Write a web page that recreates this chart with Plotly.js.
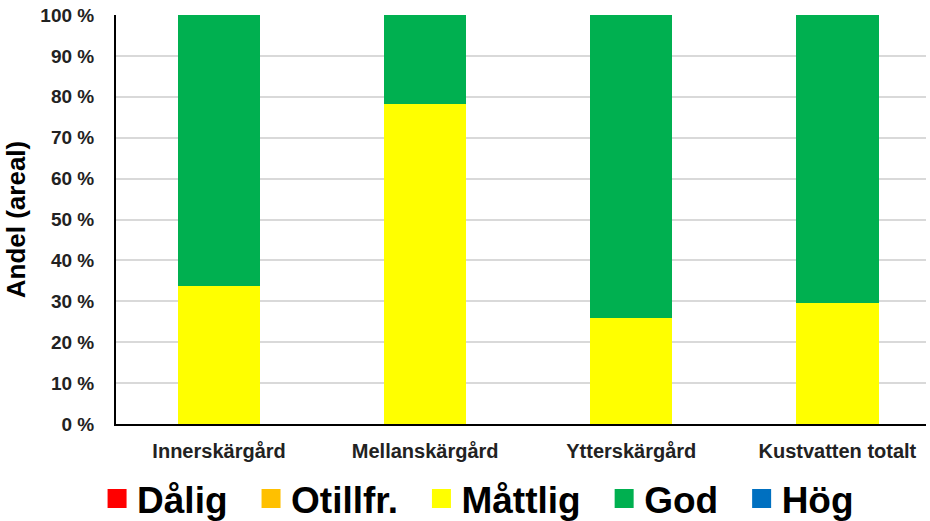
<!DOCTYPE html>
<html>
<head>
<meta charset="utf-8">
<script src="https://cdn.plot.ly/plotly-3.0.1.min.js"></script>
<style>html,body{margin:0;padding:0;background:#fff;}#chart{width:930px;height:521px;}</style>
</head>
<body>
<div id="chart"></div>
<script>
// Share of coastal water area per ecological status class
const categories = ['Innerskärgård', 'Mellanskärgård', 'Ytterskärgård', 'Kustvatten totalt'];
const classNames = ['Dålig', 'Otillfr.', 'Måttlig', 'God', 'Hög'];
const dalig    = [0, 0, 0, 0];
const otillfr  = [0, 0, 0, 0];
const mattlig  = [33.8, 78.2, 25.9, 29.6];
const god      = [66.2, 21.8, 74.1, 70.4];
const hog      = [0, 0, 0, 0];
const classColors = ['#ff0000', '#ffc000', '#ffff00', '#00b050', '#0070c0'];

const seriesValues = [dalig, otillfr, mattlig, god, hog];

// Stacked bars, one per status class
const barTraces = seriesValues.map((vals, i) => ({
  type: 'bar',
  name: classNames[i],
  legendgroup: classNames[i],
  showlegend: false,
  x: categories,
  y: vals,
  width: 0.4,
  marker: { color: classColors[i], line: { width: 0 } },
  hoverinfo: 'name+y'
}));

// Legend entries with larger square swatches; an en space widens the gap to the next entry
const legendTraces = classNames.map((name, i) => ({
  type: 'scatter',
  mode: 'markers',
  name: i < classNames.length - 1 ? name + '\u2002' : name,
  legendgroup: name,
  x: [null],
  y: [null],
  marker: { symbol: 'square', size: 18, color: classColors[i],
            line: { color: classColors[i], width: 3 } },
  hoverinfo: 'skip'
}));

const font = 'Liberation Sans, Arial, sans-serif';
const layout = {
  width: 930,
  height: 521,
  margin: { l: 116, r: 4, t: 15, b: 97, autoexpand: false },
  barmode: 'stack',
  plot_bgcolor: '#ffffff',
  paper_bgcolor: '#ffffff',
  showlegend: true,
  legend: {
    orientation: 'h',
    traceorder: 'normal',
    x: 0.447, xanchor: 'center',
    y: -0.183, yanchor: 'middle',
    font: { family: font, size: 37, color: '#000000', weight: 'bold' },
    itemwidth: 30
  },
  xaxis: {
    range: [-0.5, 3.43],
    showline: true, linecolor: '#000000', linewidth: 2,
    showgrid: false, zeroline: false,
    ticks: '', ticklabelstandoff: 8,
    tickfont: { family: font, size: 20, color: '#222222', weight: 'bold' }
  },
  yaxis: {
    range: [0, 100],
    dtick: 10,
    ticksuffix: ' %',
    showline: true, linecolor: '#000000', linewidth: 2,
    showgrid: true, gridcolor: '#d9d9d9', gridwidth: 2,
    zeroline: false,
    ticks: '', ticklabelstandoff: 16,
    tickfont: { family: font, size: 19, color: '#222222', weight: 'bold' },
    title: { text: 'Andel (areal)', standoff: 7,
             font: { family: font, size: 26, color: '#000000', weight: 'bold' } }
  }
};

Plotly.newPlot('chart', barTraces.concat(legendTraces), layout, { displayModeBar: false, staticPlot: true });
</script>
</body>
</html>
